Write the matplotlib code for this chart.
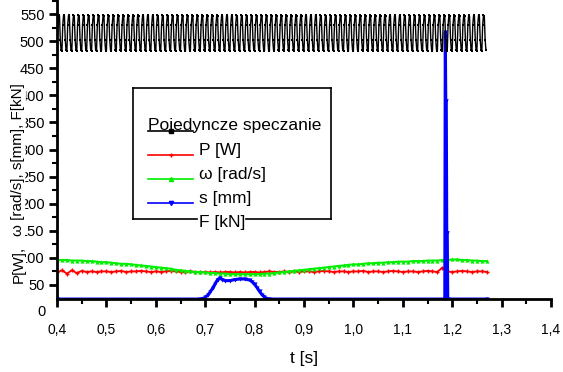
import matplotlib
matplotlib.use("Agg")
import matplotlib.pyplot as plt
from matplotlib.lines import Line2D
import numpy as np

plt.rcParams["font.family"] = ["Liberation Sans", "DejaVu Sans"]

W, H = 563, 372

# ---- data ------------------------------------------------------------------
# P [W] and omega [rad/s], sampled every 0.01 s from 0.40 to 1.27
t_grid = np.round(np.arange(0.40, 1.2701, 0.01), 3)
P = [73, 77, 71, 77, 72, 76, 74, 75, 74, 75, 75, 74, 75, 76, 74, 75, 75, 76, 75, 74,
     75, 74, 75, 76, 75, 74, 74, 75, 74, 73, 74, 73, 74, 73, 74, 74, 73, 74, 73, 74,
     74, 73, 74, 75, 74, 74, 75, 74, 75, 74, 75, 75, 74, 75, 76, 75, 74, 75, 75, 74,
     75, 75, 76, 74, 75, 75, 74, 75, 76, 75, 74, 75, 75, 74, 75, 76, 75, 74, 82, 75,
     74, 75, 76, 75, 74, 75, 75, 74]
omega = [96, 96, 96, 95, 95, 95, 94, 94, 93, 92, 92, 91, 90, 89, 89, 88, 87, 86, 85, 84,
         83, 82, 81, 80, 78, 77, 76, 75, 74, 74, 73, 72, 72, 71, 71, 70, 70, 70, 70, 70,
         70, 70, 71, 71, 72, 73, 74, 75, 76, 77, 78, 79, 80, 81, 82, 83, 84, 85, 86, 87,
         88, 88, 89, 90, 90, 91, 91, 92, 92, 93, 93, 93, 94, 94, 94, 95, 95, 95, 96, 96,
         97, 97, 96, 96, 95, 95, 94, 94]

# s [mm]: baseline, bump near 0.75 s and the spike near 1.19 s
s_t = [0.40, 0.69, 0.695, 0.70, 0.705, 0.71, 0.715, 0.72, 0.725, 0.73, 0.735, 0.74,
       0.75, 0.76, 0.77, 0.78, 0.79, 0.795, 0.80, 0.805, 0.81, 0.815, 0.82, 0.825,
       0.83, 1.185, 1.186, 1.187, 1.188, 1.189, 1.190, 1.191, 1.27]
s = [24, 24, 25, 27, 31, 37, 44, 52, 60, 63, 60, 58,
     58, 60, 61, 61, 59, 56, 51, 45, 38, 32, 28, 25,
     24, 24, 517, 390, 390, 146, 146, 24, 24]

F_cycle = [482, 530, 548, 547, 503, 483]
F_cycles = 87
F_step = 0.01 / len(F_cycle)
F = F_cycle * F_cycles
F_t = 0.40 + F_step * np.arange(len(F))

x_ticks = [0.4, 0.5, 0.6, 0.7, 0.8, 0.9, 1.0, 1.1, 1.2, 1.3, 1.4]
y_ticks = [50, 100, 150, 200, 250, 300, 350, 400, 450, 500, 550]

# ---- figure -----------------------------------------------------------------
fig = plt.figure(figsize=(W / 100, H / 100), dpi=100)
ax = fig.add_axes([57 / W, 73.5 / H, 494 / W, 298.5 / H])

ax.plot(t_grid, P, color="#ff0000", lw=1.3, marker="+", ms=3, mew=1)
ax.plot(t_grid, omega, color="#00ee00", lw=1.5, marker="^", ms=3, mew=0)
ax.plot(s_t, s, color="#0000ff", lw=2.2, marker="v", ms=3, mew=0)
ax.plot(F_t, F, color="black", lw=1.0, marker="s", ms=1.6, mew=0)

ax.set_xlim(0.4, 1.4)
ax.set_ylim(25, 576)
for side in ("top", "right"):
    ax.spines[side].set_visible(False)
for side in ("left", "bottom"):
    ax.spines[side].set_linewidth(2)

ax.set_xticks(x_ticks)
ax.set_xticklabels([f"{v:.1f}".replace(".", ",") for v in x_ticks])
ax.set_xticks(np.arange(0.45, 1.4, 0.1), minor=True)
ax.set_yticks(y_ticks)
ax.set_yticklabels([str(v) for v in y_ticks])
ax.set_yticks(np.arange(75, 576, 50), minor=True)
ax.tick_params(which="major", direction="out", length=6, width=2)
ax.tick_params(axis="x", which="major", labelsize=10, pad=12)
ax.tick_params(axis="y", which="major", labelsize=10.5, pad=3)
ax.tick_params(which="minor", direction="out", length=3.5, width=1.5)

# "0" label sits below the x axis line
ax.text(-0.024, 0, "0", ha="right", va="center", fontsize=10.5,
        transform=ax.get_yaxis_transform(), clip_on=False)

ax.set_xlabel("t [s]", fontsize=12.5, labelpad=10)

# y label drawn over the tick labels, hiding part of them
wb = dict(facecolor="white", edgecolor="none", pad=0)
fig.text(18.5 / W, 1 - 264 / H, "P[W],", rotation=90, ha="center", va="center",
         fontsize=11, bbox=wb)
fig.text(18.5 / W, 1 - 160 / H, "\u03c9 [rad/s], s[mm], F[kN]", rotation=90,
         ha="center", va="center", fontsize=11, bbox=wb)

# ---- hand-drawn legend box ----------------------------------------------------
def fx(x):
    return x / W


def fy(y):
    return 1 - y / H


box_l, box_r, box_t, box_b = 133, 331, 88, 219
for xs, ys in [
    ([box_l, box_l], [box_t, box_b]),
    ([box_l, box_r], [box_t, box_t]),
    ([box_r, box_r], [box_t, box_b]),
    ([box_l, 197], [box_b, box_b]),
    ([246, box_r], [box_b, box_b]),
]:
    fig.add_artist(Line2D([fx(v) for v in xs], [fy(v) for v in ys],
                          color="black", lw=1.2))

fig.text(fx(148), fy(126), "Pojedyncze speczanie", ha="left", va="center",
         fontsize=12.5)

samples = [
    (131, "black", "s", None),
    (155, "#ff0000", "+", "P [W]"),
    (179, "#00ee00", "^", "\u03c9 [rad/s]"),
    (203, "#0000ff", "v", "s [mm]"),
]
for y, c, m, lab in samples:
    fig.add_artist(Line2D([fx(148), fx(193)], [fy(y), fy(y)], color=c, lw=1.2))
    fig.add_artist(Line2D([fx(170.5)], [fy(y)], color=c, marker=m, ms=3, mew=1))
    if lab:
        fig.text(fx(199), fy(y - 5), lab, ha="left", va="center", fontsize=12.5)
fig.text(fx(199), fy(222), "F [kN]", ha="left", va="center", fontsize=12.5)

fig.savefig("out.png", dpi=100)
